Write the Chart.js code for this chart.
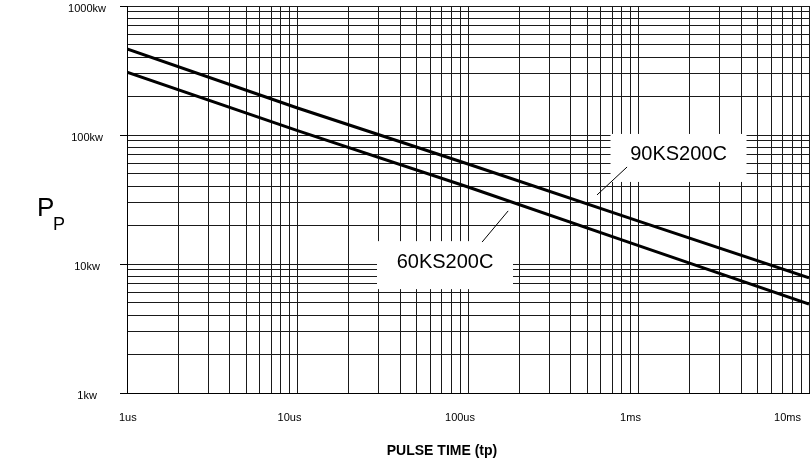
<!DOCTYPE html>
<html>
<head>
<meta charset="utf-8">
<script src="https://cdn.jsdelivr.net/npm/chart.js@4.4.1/dist/chart.umd.min.js"></script>
<style>
  html, body { margin: 0; padding: 0; background: #fff; }
  #wrap { width: 810px; height: 461px; }
</style>
</head>
<body>
<div id="wrap"><canvas id="chart"></canvas></div>
<script>
// Tiempo de pulso (us) y potencia de pico (kW)
const pulseTimes = [1, 10, 100, 1000, 10000];
const power90KS = [464, 162, 59.6, 21.5, 7.8];
const power60KS = [307, 108, 39.5, 13.9, 4.9];

const xTickValues = [1, 10, 100, 1000, 10000];
const xTickLabels = ["1us", "10us", "100us", "1ms", "10ms"];
const yTickValues = [1, 10, 100, 1000];
const yTickLabels = ["1kw", "10kw", "100kw", "1000kw"];

const seriesNames = ["90KS200C", "60KS200C"];

// Cajas de texto y lineas guia (en unidades de los ejes)
const boxCenters = [{ x: 1717, y: 66.4 }, { x: 73.3, y: 9.8 }];
const leaderLines = [
  [{ x: 571, y: 34.3 }, { x: 857, y: 56.5 }],
  [{ x: 121, y: 14.8 }, { x: 172, y: 25.8 }]
];

const FONT = "'Liberation Sans', Arial, sans-serif";

// deja solo las lineas 1..9 de cada decada
function keepLogGrid(scale) {
  scale.ticks = scale.ticks.filter(t => {
    const m = t.value / Math.pow(10, Math.floor(Math.log10(t.value) + 1e-9));
    return Math.abs(m - Math.round(m)) < 1e-6;
  });
}

const curveLabels = {
  id: "curveLabels",
  afterDatasetsDraw(chart) {
    const { ctx, scales: { x, y } } = chart;
    ctx.save();
    seriesNames.forEach((name, i) => {
      const cx = x.getPixelForValue(boxCenters[i].x);
      const cy = y.getPixelForValue(boxCenters[i].y);
      ctx.fillStyle = "#fff";
      ctx.fillRect(cx - 68, cy - 24, 136, 48);
      ctx.fillStyle = "#000";
      ctx.font = "20px " + FONT;
      ctx.textAlign = "center";
      ctx.textBaseline = "middle";
      ctx.fillText(name, cx, cy - 3);

      const [a, b] = leaderLines[i];
      ctx.strokeStyle = "#000";
      ctx.lineWidth = 1;
      ctx.beginPath();
      ctx.moveTo(x.getPixelForValue(a.x), y.getPixelForValue(a.y));
      ctx.lineTo(x.getPixelForValue(b.x), y.getPixelForValue(b.y));
      ctx.stroke();
    });
    ctx.restore();
  },
  afterDraw(chart) {
    const { ctx } = chart;
    ctx.save();
    ctx.fillStyle = "#000";
    ctx.textBaseline = "alphabetic";
    ctx.textAlign = "center";
    ctx.font = "bold 14px " + FONT;
    ctx.fillText("PULSE TIME (tp)", 442, 455);
    ctx.textAlign = "left";
    ctx.font = "26px " + FONT;
    ctx.fillText("P", 37, 216);
    ctx.font = "18px " + FONT;
    ctx.fillText("P", 53, 230);
    ctx.restore();
  }
};

new Chart(document.getElementById("chart"), {
  type: "line",
  data: {
    datasets: [
      {
        label: seriesNames[0],
        data: pulseTimes.map((t, i) => ({ x: t, y: power90KS[i] })),
        borderColor: "#000",
        borderWidth: 3,
        pointRadius: 0,
        tension: 0,
        fill: false
      },
      {
        label: seriesNames[1],
        data: pulseTimes.map((t, i) => ({ x: t, y: power60KS[i] })),
        borderColor: "#000",
        borderWidth: 3,
        pointRadius: 0,
        tension: 0,
        fill: false
      }
    ]
  },
  options: {
    responsive: true,
    maintainAspectRatio: false,
    animation: false,
    layout: { padding: { top: 6, right: 1, left: 0, bottom: 0 } },
    plugins: {
      legend: { display: false },
      tooltip: { enabled: false }
    },
    scales: {
      x: {
        type: "logarithmic",
        min: 1,
        max: 10000,
        afterBuildTicks: keepLogGrid,
        afterFit: s => { s.height = 68; s.paddingLeft = 0; s.paddingRight = 0; },
        border: { display: true, color: "#000", width: 1 },
        grid: { color: "#1a1a1a", lineWidth: 1, drawTicks: false },
        ticks: {
          autoSkip: false,
          maxRotation: 0,
          align: "inner",
          labelOffset: -8,
          padding: 18,
          color: "#000",
          font: { family: FONT, size: 11 },
          callback: v => {
            const i = xTickValues.indexOf(v);
            return i >= 0 ? xTickLabels[i] : "";
          }
        }
      },
      y: {
        type: "logarithmic",
        min: 1,
        max: 1000,
        afterBuildTicks: keepLogGrid,
        afterFit: s => { s.width = 127; s.paddingTop = 0; s.paddingBottom = 0; },
        border: { display: true, color: "#000", width: 1 },
        grid: {
          color: "#1a1a1a",
          lineWidth: 1,
          tickLength: 7,
          tickColor: c => (c.tick && yTickValues.includes(c.tick.value) ? "#000" : "rgba(0,0,0,0)")
        },
        ticks: {
          autoSkip: false,
          crossAlign: "center",
          labelOffset: 3,
          padding: 14,
          color: "#000",
          font: { family: FONT, size: 11 },
          callback: v => {
            const i = yTickValues.indexOf(v);
            return i >= 0 ? yTickLabels[i] : "";
          }
        }
      }
    }
  },
  plugins: [curveLabels]
});
</script>
</body>
</html>
